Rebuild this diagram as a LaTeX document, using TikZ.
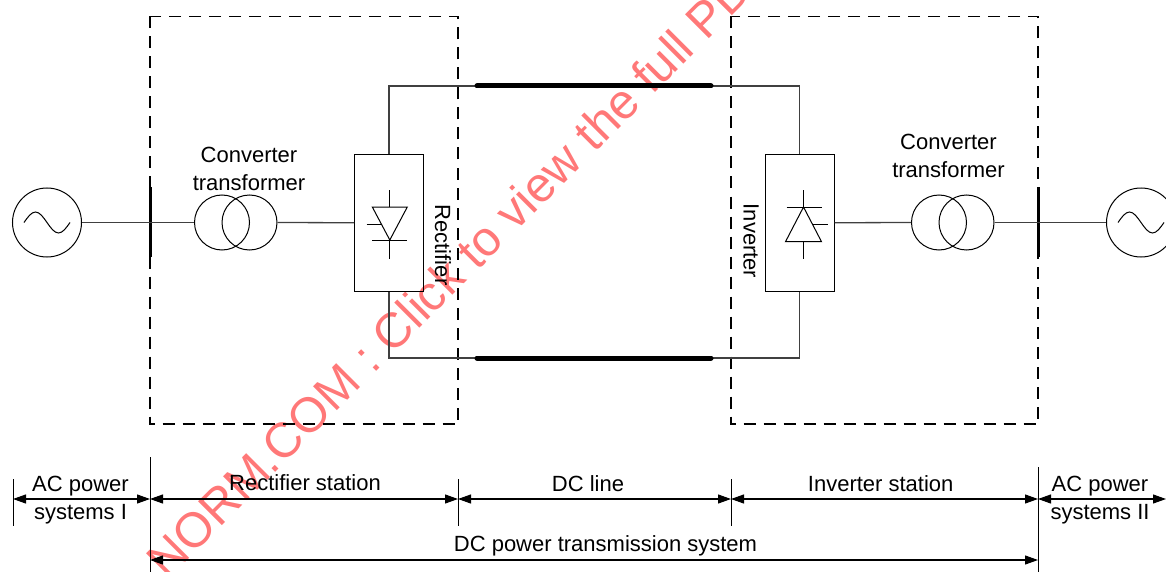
\documentclass[tikz,border=0pt]{standalone}
\usepackage{fontspec}
\setmainfont{Liberation Sans}
\usetikzlibrary{arrows.meta}
\definecolor{wmred}{RGB}{255,120,120}
\begin{document}
\begin{tikzpicture}[x=1pt,y=-1pt,
  wire/.style={line width=1.3pt, draw=black!75},
  dcline/.style={line width=5pt, line cap=round},
  bus/.style={line width=3pt},
  zone/.style={line width=1.5pt, dash pattern=on 12pt off 8pt},
  gen/.style={circle, draw, line width=1pt, minimum size=69pt, inner sep=0pt},
  tcoil/.style={circle, draw, line width=1pt, minimum size=55pt, inner sep=0pt},
  conv/.style={rectangle, draw, line width=1pt, minimum width=69pt, minimum height=136.5pt, inner sep=0pt},
  sym/.style={line width=1pt},
  lbl/.style={font=\fontsize{22}{28}\selectfont, inner sep=0pt, align=center},
  dim/.style={line width=1.1pt, {Triangle[length=13pt,width=9pt]}-{Triangle[length=13pt,width=9pt]}},
  tickl/.style={line width=1pt}
]
\useasboundingbox (0,0) rectangle (1166,572);

% watermark
\begin{scope}
\clip (0,0) rectangle (1166,572);
\node[font=\fontsize{49}{49}\selectfont, text=wmred, rotate=45, anchor=base west, inner sep=0pt] (wm) at (167,581) {NORM.COM : Click to view the full PDF};
\end{scope}

% station zones
\draw[zone] (150,16.5) rectangle (458,424);
\draw[zone] (731,16.5) rectangle (1038,424);

% left AC side
\node[gen] (g1) at (47,222.5) {};
\draw[sym] (24,222.5) sin (35.5,212) cos (47,222.5) sin (58.5,233) cos (70,222.5);
\coordinate (b1) at (150,222.5);
\coordinate (b1t) at (150,187);
\coordinate (b1b) at (150,257);
\draw[bus] (b1t) -- (b1b);
\node[tcoil] (t1a) at (222,222.5) {};
\node[tcoil] (t1b) at (249.5,222.5) {};
\node[conv] (rec) at (389,222.75) {};
\draw[wire] (g1.east) -- (b1) -- (t1a.west);
\draw[wire] (t1b.east) -- (rec.west);

% rectifier valve symbol
\draw[sym] (372.3,207) -- (407.3,207) -- (389.8,240) -- cycle;
\draw[sym] (372.3,240) -- (407.3,240);
\draw[sym] (389.8,190) -- (389.8,207);
\draw[sym] (389.8,240) -- (389.8,259);
\draw[sym] (366.7,224.3) -- (381.5,224.3);

% right AC side
\node[conv] (inv) at (799.5,222.75) {};
\node[tcoil] (t2a) at (939,222.5) {};
\node[tcoil] (t2b) at (966.5,222.5) {};
\coordinate (b2) at (1038,222.5);
\coordinate (b2t) at (1038,187);
\coordinate (b2b) at (1038,257);
\draw[bus] (b2t) -- (b2b);
\node[gen] (g2) at (1141,222.5) {};
\draw[sym] (1118,222.5) sin (1129.5,212) cos (1141,222.5) sin (1152.5,233) cos (1164,222.5);
\draw[wire] (inv.east) -- (t2a.west);
\draw[wire] (t2b.east) -- (b2) -- (g2.west);

% inverter valve symbol
\draw[sym] (786.5,207) -- (821.5,207);
\draw[sym] (803.5,207) -- (821.5,241.7) -- (785.5,241.7) -- cycle;
\draw[sym] (803.5,190) -- (803.5,207);
\draw[sym] (803.5,241.7) -- (803.5,259);
\draw[sym] (812,224.3) -- (828.3,224.3);

% DC lines
\coordinate (p1) at (389,86);
\coordinate (p2) at (799.5,86);
\coordinate (n1) at (389,358);
\coordinate (n2) at (799.5,358);
\draw[wire] (rec.north) -- (p1) -- (p2) -- (inv.north);
\draw[wire] (rec.south) -- (n1) -- (n2) -- (inv.south);
\coordinate (dp1) at (477,86);
\coordinate (dp2) at (711,86);
\coordinate (dn1) at (477,358);
\coordinate (dn2) at (711,358);
\draw[dcline] (dp1) -- (dp2);
\draw[dcline] (dn1) -- (dn2);

% labels
\node[lbl] (ct1) at (249,169) {Converter\\transformer};
\node[lbl] (ct2) at (948.5,155.6) {Converter\\transformer};
\node[lbl, rotate=-90] (rl) at (443,245) {Rectifier};
\node[lbl, rotate=-90] (il) at (751,241) {Inverter};

% dimension ticks
\coordinate (k0t) at (13,479);    \coordinate (k0b) at (13,526);
\coordinate (k1t) at (150,457);   \coordinate (k1b) at (150,572);
\coordinate (k2t) at (458,479);   \coordinate (k2b) at (458,526);
\coordinate (k3t) at (731,479);   \coordinate (k3b) at (731,526);
\coordinate (k4t) at (1038,467);  \coordinate (k4b) at (1038,572);
\foreach \k in {0,...,4} \draw[tickl] (k\k t) -- (k\k b);

% dimension arrows
\coordinate (a0) at (13,499);
\coordinate (a1) at (150,499);
\coordinate (a2) at (458,499);
\coordinate (a3) at (731,499);
\coordinate (a4) at (1038,499);
\coordinate (a5) at (1166,499);
\draw[dim] (a0) -- (a1);
\draw[dim] (a1) -- (a2);
\draw[dim] (a2) -- (a3);
\draw[dim] (a3) -- (a4);
\draw[dim] (a4) -- (a5);
\coordinate (c1) at (150,560);
\coordinate (c2) at (1038,560);
\draw[dim] (c1) -- (c2);

\node[lbl] (ac1) at (80.5,499.7) {AC power\\systems I};
\node[lbl, anchor=base] (rs) at (305,490.5) {Rectifier station};
\node[lbl, anchor=base] (dcl) at (588,491) {DC line};
\node[lbl, anchor=base] (ist) at (880.7,491) {Inverter station};
\node[lbl] (ac2) at (1100,499.7) {AC power\\systems II};
\node[lbl, anchor=base] (dcs) at (605.5,551) {DC power transmission system};
\end{tikzpicture}
\end{document}
